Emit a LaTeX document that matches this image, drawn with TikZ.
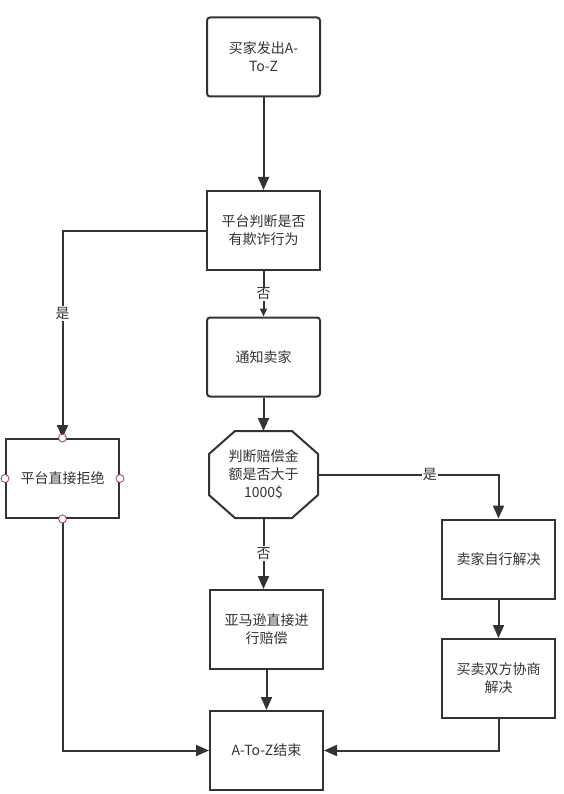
\documentclass[tikz,border=0pt]{standalone}
\usepackage{fontspec}
\setmainfont{Noto Sans CJK SC}
\usetikzlibrary{arrows.meta}
\definecolor{dunkel}{RGB}{51,51,51}
\definecolor{rotpunkt}{RGB}{170,60,60}

\begin{document}
\begin{tikzpicture}[x=1pt,y=-1pt,
	kasten/.style={draw=dunkel, line width=2pt, minimum width=113pt, minimum height=79pt, inner sep=2pt, align=center, text=dunkel, font=\fontsize{14}{18}\selectfont},
	rund/.style={kasten, rounded corners=3pt},
	pfeil/.style={draw=dunkel, line width=2pt, -{Triangle[length=13pt,width=11pt]}},
	kleinpfeil/.style={pfeil, -{Triangle[length=8pt,width=7pt]}},
	beschr/.style={fill=white, text=dunkel, inner sep=1pt, font=\fontsize{14}{18}\selectfont},
	punkt/.style={circle, draw=rotpunkt, fill=white, line width=0.8pt, minimum size=8pt, inner sep=0pt}]
	
	\useasboundingbox (0,0) rectangle (563,794);
	
	%Kaesten
	\node[rund] (start) at (263.5,57) {买家发出A-\\To-Z};
	\node[kasten] (pruefung) at (263.5,230.5) {平台判断是否\\有欺诈行为};
	\node[rund] (info) at (263.5,357) {通知卖家};
	\node[kasten, draw=none, minimum width=109pt, minimum height=87pt, outer sep=0pt] (okt) at (263.5,474.5) {判断赔偿金\\额是否大于\\1000\$};
	\node[kasten] (ablehnung) at (62.5,478.5) {平台直接拒绝};
	\node[kasten] (selbst) at (498.5,559) {卖家自行解决};
	\node[kasten] (verhandlung) at (498.5,678.5) {买卖双方协商\\解决};
	\node[kasten] (amazon) at (266.5,629.5) {亚马逊直接进\\行赔偿};
	\node[kasten] (ende) at (266.5,750.5) {A-To-Z结束};
	
	%Achteck
	\draw[draw=dunkel, line width=2pt] ([xshift=26pt]okt.north west) -- ([xshift=-26pt]okt.north east) -- ([yshift=-23pt]okt.north east) -- ([yshift=23pt]okt.south east) -- ([xshift=-26pt]okt.south east) -- ([xshift=26pt]okt.south west) -- ([yshift=23pt]okt.south west) -- ([yshift=-23pt]okt.north west) -- cycle;
	
	%Pfeile
	\draw[pfeil] (start) -- (pruefung);
	\draw[kleinpfeil] (pruefung) -- node[beschr]{否} (info);
	\draw[pfeil] (info) -- (okt);
	\draw[pfeil] (pruefung.west) -| node[beschr, pos=0.7]{是} (ablehnung.north);
	\draw[pfeil] (okt.east) -| node[beschr, pos=0.31]{是} (selbst.north);
	\draw[pfeil] (okt.south) -- node[beschr]{否} (okt.south |- amazon.north);
	\draw[pfeil] (selbst) -- (verhandlung);
	\draw[pfeil] (amazon) -- (ende);
	\draw[pfeil] (ablehnung.south) |- (ende.west);
	\draw[pfeil] (verhandlung.south) |- (ende.east);
	
	%Verbindungspunkte
	\foreach \a in {north,south,east,west}
		\node[punkt] at (ablehnung.\a) {};
	
\end{tikzpicture}
\end{document}
